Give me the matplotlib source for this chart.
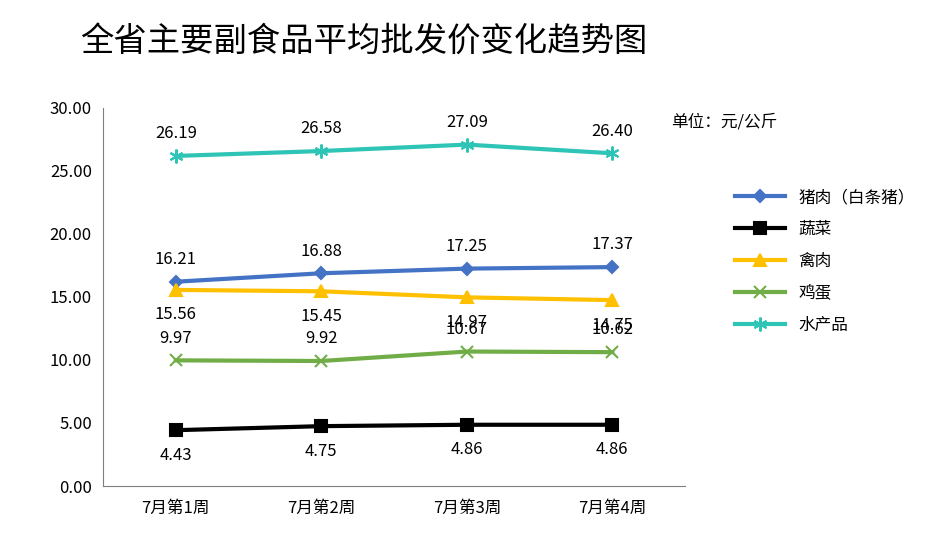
import matplotlib.pyplot as plt

plt.rcParams['font.family'] = ['Noto Sans CJK SC', 'DejaVu Sans']

weeks = ["7月第1周", "7月第2周", "7月第3周", "7月第4周"]
pork = [16.21, 16.88, 17.25, 17.37]
veg = [4.43, 4.75, 4.86, 4.86]
poultry = [15.56, 15.45, 14.97, 14.75]
egg = [9.97, 9.92, 10.67, 10.62]
aqua = [26.19, 26.58, 27.09, 26.40]

series = [
    ("猪肉（白条猪）", pork, '#4472C4', 'D', 6, 'above'),
    ("蔬菜", veg, '#000000', 's', 9, 'below'),
    ("禽肉", poultry, '#FFC000', '^', 8, 'below'),
    ("鸡蛋", egg, '#70AD47', 'x', 9, 'above'),
    ("水产品", aqua, '#2EC4B6', (6, 2, 0), 10, 'above'),
]

fig = plt.figure(figsize=(9.48, 5.44), dpi=100)
ax = fig.add_axes([0.1087, 0.1066, 0.614, 0.695])
x = range(len(weeks))
for name, vals, color, marker, ms, pos in series:
    ax.plot(x, vals, color=color, lw=3, marker=marker, ms=ms,
            mec=color, mew=1.5, label=name)
    for xi, v in zip(x, vals):
        dy = 16 if pos == 'above' else -18
        ax.annotate(f"{v:.2f}", (xi, v), xytext=(0, dy), textcoords='offset points',
                    ha='center', va='center', fontsize=12)

ax.set_xlim(-0.5, 3.5)
ax.set_ylim(0, 30)
ax.set_yticks(range(0, 31, 5))
ax.set_yticklabels([f"{v:.2f}" for v in range(0, 31, 5)], fontsize=12)
ax.set_xticks(list(x))
ax.set_xticklabels(weeks, fontsize=12)
ax.tick_params(axis='y', length=0, pad=8)
ax.tick_params(axis='x', length=0, pad=10)
for s in ['top', 'right']:
    ax.spines[s].set_visible(False)
for s in ['left', 'bottom']:
    ax.spines[s].set_color('#7f7f7f')

fig.text(0.085, 0.922, "全省主要副食品平均批发价变化趋势图", fontsize=24, va='center')
fig.text(0.708, 0.775, "单位：元/公斤", fontsize=12, va='center')
fig.legend(loc='upper left', bbox_to_anchor=(0.76, 0.68), frameon=False,
           fontsize=12, handlelength=3, labelspacing=0.9)

fig.savefig("out.png", dpi=100)
